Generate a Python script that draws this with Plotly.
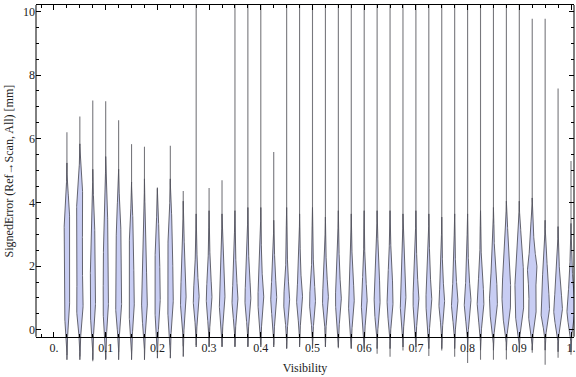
import numpy as np
import plotly.graph_objects as go

# ---------------- data ----------------
visibility = [0.025, 0.05, 0.075, 0.1, 0.125, 0.15, 0.175, 0.2, 0.225, 0.25,
              0.275, 0.3, 0.325, 0.35, 0.375, 0.4, 0.425, 0.45, 0.475, 0.5,
              0.525, 0.55, 0.575, 0.6, 0.625, 0.65, 0.675, 0.7, 0.725, 0.75,
              0.775, 0.8, 0.825, 0.85, 0.875, 0.9, 0.925, 0.95, 0.975, 1.0]

err_min = [-0.79, -0.84, -0.99, -0.91, -0.70, -0.65, -0.62, -0.52, -0.48, -0.52,
           -0.48, -0.52, -0.52, -0.52, -0.52, -0.47, -0.47, -0.58, -0.47, -0.58,
           -0.52, -0.58, -0.58, -0.68, -0.75, -0.85, -0.65, -0.65, -0.82, -0.65,
           -0.85, -1.04, -0.94, -0.94, -0.93, -0.72, -0.72, -1.10, -0.88, -0.78]

err_max = [6.2, 6.7, 7.2, 7.18, 6.58, 5.83, 5.75, 4.47, 5.78, 4.36,
           12.0, 4.45, 4.7, 12.0, 12.0, 12.0, 5.58, 12.0, 12.0, 12.0,
           12.0, 12.0, 12.0, 12.0, 12.0, 12.0, 12.0, 12.0, 12.0, 12.0,
           12.0, 12.0, 12.0, 12.0, 12.0, 10.3, 9.77, 9.77, 7.58, 5.3]

n_obs = [67, 80, 67, 67, 73, 67, 70, 70, 73, 70,
         73, 70, 73, 73, 73, 73, 73, 73, 73, 73,
         73, 73, 73, 73, 73, 73, 73, 73, 73, 70,
         80, 83, 83, 97, 110, 107, 117, 107, 107, 100]

err_samples = [
    [0.2, 0.5, 0.8, 1.1, 1.4, 1.7, 2.0, 2.3, 2.6, 2.9, 3.2, 3.5, 3.8, 4.1],
    [0.2, 0.5, 0.8, 1.1, 1.4, 1.8, 2.2, 2.6, 3.0, 3.4, 3.7, 4.0, 4.3, 4.7],
    [0.2, 0.45, 0.7, 0.95, 1.2, 1.5, 1.8, 2.1, 2.4, 2.8, 3.1, 3.5, 3.9],
    [0.2, 0.45, 0.7, 0.95, 1.2, 1.5, 1.8, 2.2, 2.5, 2.8, 3.1, 3.4, 3.8, 4.3],
    [0.2, 0.45, 0.7, 0.95, 1.2, 1.5, 1.8, 2.2, 2.5, 2.8, 3.1, 3.5, 3.9],
    [0.2, 0.45, 0.7, 0.95, 1.2, 1.5, 1.8, 2.1, 2.5, 2.8, 3.1, 3.5],
    [0.2, 0.4, 0.6, 0.8, 1.0, 1.25, 1.5, 1.8, 2.1, 2.5, 2.8, 3.1, 3.6],
    [0.25, 0.5, 0.75, 1.0, 1.2, 1.45, 1.7, 2.0, 2.3, 2.6, 2.9, 3.3],
    [0.25, 0.5, 0.75, 1.0, 1.2, 1.45, 1.7, 2.0, 2.3, 2.6, 2.9, 3.2, 3.6],
    [0.3, 0.55, 0.75, 0.9, 1.05, 1.2, 1.4, 1.7, 2.0, 2.4, 2.9],
    [0.3, 0.55, 0.75, 0.9, 1.0, 1.15, 1.3, 1.5, 1.8, 2.2, 2.8],
    [0.3, 0.5, 0.7, 0.85, 1.0, 1.1, 1.25, 1.4, 1.6, 1.9, 2.3, 2.9],
    [0.3, 0.5, 0.7, 0.85, 0.95, 1.05, 1.2, 1.35, 1.55, 1.8, 2.2, 2.8],
    [0.3, 0.5, 0.65, 0.8, 0.9, 1.0, 1.1, 1.25, 1.4, 1.6, 1.9, 2.3, 2.9],
    [0.3, 0.5, 0.65, 0.8, 0.95, 1.05, 1.15, 1.3, 1.45, 1.65, 1.95, 2.4, 3.0],
    [0.3, 0.5, 0.65, 0.8, 0.9, 1.0, 1.1, 1.25, 1.4, 1.6, 1.9, 2.3, 3.0],
    [0.3, 0.5, 0.7, 0.85, 0.95, 1.05, 1.2, 1.35, 1.5, 1.75, 2.1, 2.6],
    [0.25, 0.45, 0.6, 0.75, 0.85, 0.95, 1.05, 1.2, 1.35, 1.55, 1.85, 2.3, 3.0],
    [0.3, 0.5, 0.65, 0.8, 0.9, 1.0, 1.1, 1.2, 1.35, 1.55, 1.8, 2.2, 2.8],
    [0.25, 0.45, 0.6, 0.75, 0.85, 0.95, 1.05, 1.2, 1.35, 1.55, 1.85, 2.3, 3.0],
    [0.3, 0.5, 0.65, 0.8, 0.9, 1.0, 1.1, 1.2, 1.35, 1.5, 1.75, 2.1, 2.7],
    [0.3, 0.5, 0.65, 0.8, 0.9, 1.0, 1.1, 1.25, 1.4, 1.6, 1.9, 2.3, 2.9],
    [0.25, 0.45, 0.6, 0.75, 0.9, 1.0, 1.1, 1.25, 1.4, 1.6, 1.85, 2.2, 2.8],
    [0.25, 0.45, 0.6, 0.75, 0.85, 0.95, 1.05, 1.2, 1.35, 1.55, 1.8, 2.2, 2.9],
    [0.25, 0.45, 0.6, 0.75, 0.9, 1.05, 1.2, 1.35, 1.5, 1.7, 1.95, 2.3, 2.9],
    [0.25, 0.45, 0.6, 0.75, 0.9, 1.05, 1.2, 1.35, 1.5, 1.7, 1.95, 2.3, 2.9],
    [0.3, 0.5, 0.65, 0.8, 0.9, 1.0, 1.1, 1.25, 1.4, 1.6, 1.85, 2.2, 2.8],
    [0.3, 0.5, 0.65, 0.8, 0.9, 1.0, 1.1, 1.25, 1.4, 1.6, 1.9, 2.3, 2.9],
    [0.25, 0.45, 0.6, 0.75, 0.85, 0.95, 1.05, 1.2, 1.35, 1.55, 1.8, 2.2, 2.8],
    [0.25, 0.45, 0.6, 0.7, 0.8, 0.9, 1.0, 1.1, 1.25, 1.45, 1.7, 2.1, 2.7],
    [0.25, 0.4, 0.55, 0.7, 0.8, 0.9, 1.0, 1.1, 1.25, 1.45, 1.7, 2.1, 2.8],
    [0.2, 0.4, 0.55, 0.7, 0.8, 0.9, 1.0, 1.1, 1.25, 1.45, 1.7, 2.1, 2.8],
    [0.2, 0.4, 0.55, 0.7, 0.85, 0.95, 1.05, 1.2, 1.35, 1.55, 1.8, 2.2, 2.9],
    [0.2, 0.4, 0.55, 0.7, 0.85, 1.0, 1.15, 1.3, 1.45, 1.65, 1.9, 2.3, 3.0],
    [0.2, 0.4, 0.6, 0.8, 1.0, 1.15, 1.3, 1.5, 1.7, 1.95, 2.2, 2.6, 3.2],
    [0.2, 0.4, 0.6, 0.8, 1.0, 1.2, 1.4, 1.6, 1.8, 2.0, 2.2, 2.6, 3.2],
    [0.2, 0.4, 0.6, 0.8, 1.1, 1.4, 1.6, 1.8, 1.95, 2.1, 2.3, 2.7, 3.3],
    [0.2, 0.35, 0.5, 0.65, 0.8, 0.95, 1.1, 1.3, 1.55, 1.8, 2.1, 2.6],
    [0.15, 0.3, 0.45, 0.6, 0.7, 0.85, 1.0, 1.2, 1.45, 1.8, 2.4],
    [0.15, 0.3, 0.45, 0.6, 0.7, 0.85, 1.0, 1.2, 1.5, 1.9, 2.5],
]

x_tick_vals = [0.0, 0.1, 0.2, 0.3, 0.4, 0.5, 0.6, 0.7, 0.8, 0.9, 1.0]
x_tick_text = ["0.", "0.1", "0.2", "0.3", "0.4", "0.5", "0.6", "0.7", "0.8", "0.9", "1."]
y_tick_vals = [0, 2, 4, 6, 8, 10]

# ---------------- styling / layout ----------------
FONT = "Liberation Serif, Times New Roman, serif"
TXT = "#222222"
FILL = "rgb(200,205,243)"
EDGE = "rgb(85,85,95)"
TAIL = "rgb(120,120,125)"

X_RANGE = [-0.0348, 1.0058]
Y_RANGE = [-1.2, 10.2]
Y_FRAME_BOTTOM = -0.22
axis_pos = (Y_FRAME_BOTTOM - Y_RANGE[0]) / (Y_RANGE[1] - Y_RANGE[0])
MAX_HALF_W = 0.0092   # half width (x units) of the violin with the most observations


def bandwidth_for(xv):
    return 0.38 if xv <= 0.25 else 0.28


def kde(samples, grid, bw):
    s = np.asarray(samples)[:, None]
    return np.exp(-0.5 * ((grid[None, :] - s) / bw) ** 2).sum(axis=0)


fig = go.Figure()

# thin tails from each bin's minimum to maximum (drawn first, under the bodies)
tail_x, tail_y = [], []
for xv, lo, hi in zip(visibility, err_min, err_max):
    tail_x += [xv, xv, None]
    tail_y += [lo, hi, None]
fig.add_trace(go.Scatter(x=tail_x, y=tail_y, mode="lines",
                         line=dict(color=TAIL, width=1.1),
                         showlegend=False, hoverinfo="skip"))

# violin bodies: smooth kernel density of each bin, mirrored about its position
nmax = max(n_obs)
body_x, body_y = [], []
for xv, n, s in zip(visibility, n_obs, err_samples):
    bw = bandwidth_for(xv)
    grid = np.linspace(min(s) - 3 * bw, max(s) + 3 * bw, 160)
    d = kde(s, grid, bw)
    half = MAX_HALF_W * (n / nmax) * d / d.max()
    xs = np.concatenate([xv + half, (xv - half)[::-1]])
    ys = np.concatenate([grid, grid[::-1]])
    body_x += list(xs) + [xs[0], None]
    body_y += list(ys) + [ys[0], None]
fig.add_trace(go.Scatter(x=body_x, y=body_y, mode="lines", fill="toself",
                         fillcolor=FILL, line=dict(color=EDGE, width=0.9),
                         showlegend=False, hoverinfo="skip"))

# empty trace so the mirrored top axis is drawn
fig.add_trace(go.Scatter(x=[], y=[], xaxis="x2", showlegend=False))

minor_x = [round(0.025 * k, 3) for k in range(-1, 41) if k % 4 != 0]
minor_y = [0.5 * k for k in range(0, 21) if k % 4 != 0]

common_x = dict(
    range=X_RANGE, tickmode="array", tickvals=x_tick_vals,
    ticks="inside", ticklen=5, tickwidth=1, tickcolor="black",
    minor=dict(tickmode="array", tickvals=minor_x, ticks="inside", ticklen=3,
               tickcolor="black", showgrid=False),
    showgrid=False, zeroline=False, automargin=False,
)

fig.update_layout(
    width=576, height=377,
    margin=dict(l=36, r=2, t=5, b=9, autoexpand=False),
    paper_bgcolor="white", plot_bgcolor="white",
    font=dict(family=FONT, size=12, color=TXT),
    xaxis=dict(
        **common_x,
        ticktext=x_tick_text,
        anchor="free", position=axis_pos,
        showline=True, linecolor="black", linewidth=1,
        tickfont=dict(family=FONT, size=12, color=TXT),
        title=dict(text="Visibility", font=dict(family=FONT, size=12, color=TXT), standoff=9),
    ),
    xaxis2=dict(
        **common_x,
        overlaying="x", side="top", anchor="y", matches="x",
        showticklabels=False, showline=True, linecolor="black", linewidth=1,
    ),
    yaxis=dict(
        range=Y_RANGE, tickmode="array", tickvals=y_tick_vals,
        ticks="inside", ticklen=5, tickwidth=1, tickcolor="black",
        minor=dict(tickmode="array", tickvals=minor_y, ticks="inside", ticklen=3,
                   tickcolor="black", showgrid=False),
        mirror="ticks", showline=False, showgrid=False, zeroline=False,
        automargin=False,
        tickfont=dict(family=FONT, size=12, color=TXT),
    ),
    shapes=[
        dict(type="line", xref="paper", yref="paper", x0=0, x1=0, y0=axis_pos, y1=1,
             line=dict(color="black", width=1)),
        dict(type="line", xref="paper", yref="paper", x0=1, x1=1, y0=axis_pos, y1=1,
             line=dict(color="black", width=1)),
    ],
    annotations=[
        dict(text="SignedError (Ref\u2192Scan, All) [mm]", textangle=-90,
             xref="paper", yref="y", x=(8.5 - 36) / 538, y=(Y_FRAME_BOTTOM + Y_RANGE[1]) / 2,
             xanchor="center", yanchor="middle", showarrow=False,
             font=dict(family=FONT, size=12, color=TXT)),
    ],
)

fig.write_html("out.html", config={"displayModeBar": False},
               post_script="document.body.style.margin='0px';document.body.style.overflow='hidden';")
